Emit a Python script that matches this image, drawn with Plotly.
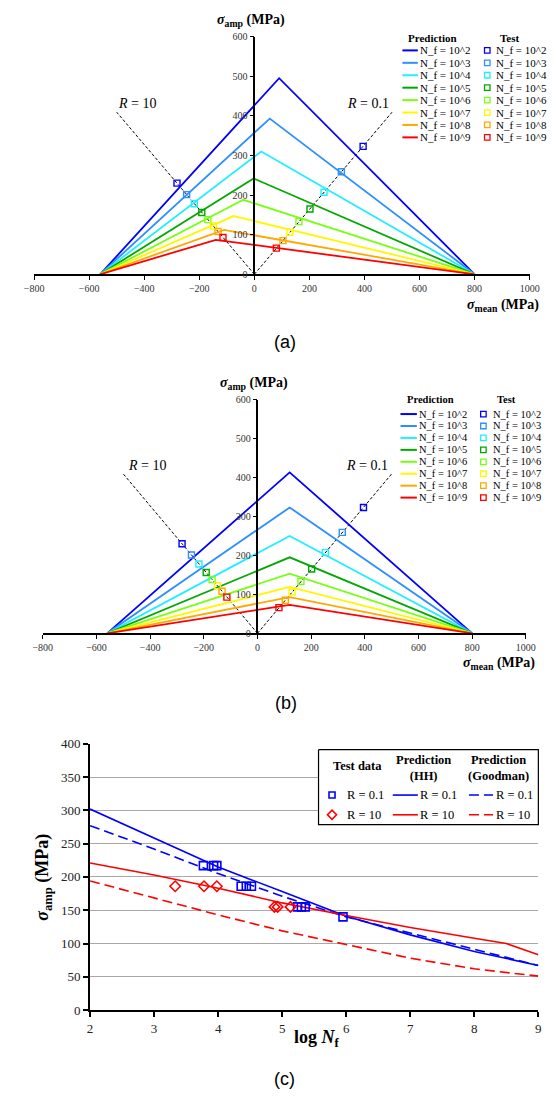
import plotly.graph_objects as go

W, H = 558, 1097

# ---------------- data ----------------
series_labels = ["N_f = 10^2", "N_f = 10^3", "N_f = 10^4", "N_f = 10^5",
                 "N_f = 10^6", "N_f = 10^7", "N_f = 10^8", "N_f = 10^9"]
colors = ["#0000FF", "#2E8FFF", "#22EEFF", "#00A800",
          "#77FF11", "#FFF700", "#FFA800", "#FF0000"]

# Haigh diagram vertices (MPa)
left_vertex = -560
right_vertex = 800
peak_mean_a = [90, 56, 25, -3, -40, -75, -110, -140]
peak_amp_a = [495, 393, 310, 242, 188, 147, 112, 87]
peak_mean_b = [120, 120, 120, 120, 120, 120, 120, 120]
peak_amp_b = [413, 323, 250, 195, 153, 119, 93, 73]

# test points (same in a and b)
test_r10_mean = [-281, -246, -218, -191, -169, -149, -132, -114]
test_r10_amp = [230, 201, 178, 156, 138, 122, 108, 93]
test_r01_mean = [395, 316, 253, 202, 162, 129, 104, 80]
test_r01_amp = [323, 259, 207, 165, 133, 106, 85, 66]

# constant R lines
R_values = [10, 0.1]
R_mean_extent = [-500, 500]
R_texts = ["<i>R</i> = 10", "<i>R</i> = 0.1"]

# panel (c)
logN = [2, 3, 4, 5, 6, 7, 8, 9]
hh_r01 = [302, 258, 215, 178, 141, 113, 88, 67]
gm_r01 = [277, 242, 205, 171, 140, 116, 91, 67]
logN_hh_r10 = [2, 3, 4, 5, 6, 7, 8, 8.5, 9]
hh_r10 = [221, 203, 183, 161, 142, 124, 108, 100, 83]
gm_r10 = [194, 168, 143, 119, 99, 78, 62, 51]
test_c_r01_logN = [3.77, 3.93, 3.98, 4.36, 4.44, 4.52, 5.24, 5.30, 5.36, 5.95]
test_c_r01_amp = [217, 217, 217, 186, 186, 186, 155, 155, 155, 140]
test_c_r10_logN = [3.33, 3.78, 3.98, 4.88, 4.93, 5.13]
test_c_r10_amp = [186, 186, 186, 155, 155, 155]

SERIF = "Liberation Serif"
SANS = "Liberation Sans"


def px(x):
    return x / W


def py(y):
    return 1 - y / H


fig = go.Figure()
annotations = []


def ann(x, y, text, size, anchor="center", family=SERIF, color="black", angle=0):
    annotations.append(dict(x=px(x), y=py(y), xref="paper", yref="paper",
                            text=text, showarrow=False, xanchor=anchor,
                            yanchor="middle", textangle=angle,
                            font=dict(family=family, size=size, color=color)))


def add_haigh(xa, ya, peak_mean, peak_amp):
    for R, ext in zip(R_values, R_mean_extent):
        slope = (1 - R) / (1 + R)
        fig.add_trace(go.Scatter(x=[0, ext], y=[0, slope * ext], mode="lines",
                                 line=dict(color="black", width=1, dash="3px,2px"),
                                 xaxis=xa, yaxis=ya, showlegend=False, hoverinfo="skip"))
    for i in range(8):
        fig.add_trace(go.Scatter(x=[left_vertex, peak_mean[i], right_vertex],
                                 y=[0, peak_amp[i], 0], mode="lines",
                                 line=dict(color=colors[i], width=1.8),
                                 xaxis=xa, yaxis=ya, showlegend=False))
    for i in range(8):
        fig.add_trace(go.Scatter(x=[test_r10_mean[i], test_r01_mean[i]],
                                 y=[test_r10_amp[i], test_r01_amp[i]], mode="markers",
                                 marker=dict(symbol="square-open", size=6, color=colors[i],
                                             line=dict(width=1.4, color=colors[i])),
                                 cliponaxis=False, xaxis=xa, yaxis=ya, showlegend=False))


add_haigh("x", "y", peak_mean_a, peak_amp_a)
add_haigh("x2", "y2", peak_mean_b, peak_amp_b)

# panel c traces
fig.add_trace(go.Scatter(x=logN, y=hh_r01, mode="lines", line=dict(color="#0000FF", width=1.6),
                         xaxis="x3", yaxis="y3", showlegend=False))
fig.add_trace(go.Scatter(x=logN, y=gm_r01, mode="lines",
                         line=dict(color="#0000FF", width=1.6, dash="10px,5px"),
                         xaxis="x3", yaxis="y3", showlegend=False))
fig.add_trace(go.Scatter(x=logN_hh_r10, y=hh_r10, mode="lines", line=dict(color="#FF0000", width=1.6),
                         xaxis="x3", yaxis="y3", showlegend=False))
fig.add_trace(go.Scatter(x=logN, y=gm_r10, mode="lines",
                         line=dict(color="#FF0000", width=1.6, dash="10px,5px"),
                         xaxis="x3", yaxis="y3", showlegend=False))
fig.add_trace(go.Scatter(x=test_c_r01_logN, y=test_c_r01_amp, mode="markers",
                         marker=dict(symbol="square-open", size=8, color="#0000FF",
                                     line=dict(width=1.6, color="#0000FF")),
                         xaxis="x3", yaxis="y3", showlegend=False))
fig.add_trace(go.Scatter(x=test_c_r10_logN, y=test_c_r10_amp, mode="markers",
                         marker=dict(symbol="diamond-open", size=8, color="#FF0000",
                                     line=dict(width=1.6, color="#FF0000")),
                         xaxis="x3", yaxis="y3", showlegend=False))


# ------------- legends (drawn on a page-pixel overlay axis) -------------
def leg_line(x0, x1, y, color, dash=None, width=1.8):
    fig.add_trace(go.Scatter(x=[x0, x1], y=[y, y], mode="lines",
                             line=dict(color=color, width=width, dash=dash),
                             xaxis="x4", yaxis="y4", showlegend=False, hoverinfo="skip"))


def leg_marker(x, y, color, symbol, size, lw=1.4):
    fig.add_trace(go.Scatter(x=[x], y=[y], mode="markers",
                             marker=dict(symbol=symbol, size=size, color=color,
                                         line=dict(width=lw, color=color)),
                             xaxis="x4", yaxis="y4", showlegend=False, hoverinfo="skip"))


def haigh_legend(head_y, row0, dy, line_x0, line_x1, mark_x, text_x2, pred_cx, test_cx, fs):
    ann(pred_cx, head_y, "<b>Prediction</b>", fs)
    ann(test_cx, head_y, "<b>Test</b>", fs)
    for i in range(8):
        y = row0 + dy * i
        leg_line(line_x0, line_x1, y, colors[i], width=2)
        ann(line_x1, y, series_labels[i], fs, anchor="left")
        leg_marker(mark_x, y, colors[i], "square-open", 5.5, 1.3)
        ann(text_x2, y, series_labels[i], fs, anchor="left")


haigh_legend(31, 44, 12.6, 407, 423, 495, 502, 438, 518, 11)
haigh_legend(398, 412.7, 12.1, 405, 422, 491, 499, 436, 515, 10.5)

# panel c legend box
fig.add_trace(go.Scatter(x=[320, 548, 548, 320, 320], y=[753, 753, 829, 829, 753], mode="lines",
                         fill="toself", fillcolor="white", line=dict(color="black", width=1.2),
                         xaxis="x4", yaxis="y4", showlegend=False, hoverinfo="skip"))
ann(360, 770, "<b>Test data</b>", 12.5)
ann(429, 772, "<b>Prediction<br>(HH)</b>", 12.5)
ann(507, 772, "<b>Prediction<br>(Goodman)</b>", 12.5)
leg_marker(334, 799, "#0000FF", "square-open", 6, 1.6)
ann(347, 799, "R = 0.1", 12.5, anchor="left")
leg_marker(334, 819, "#FF0000", "diamond-open", 7, 1.6)
ann(347, 819, "R = 10", 12.5, anchor="left")
leg_line(397, 423, 799, "#0000FF", width=1.6)
ann(423, 799, "R = 0.1", 12.5, anchor="left")
leg_line(397, 423, 819, "#FF0000", width=1.6)
ann(423, 819, "R = 10", 12.5, anchor="left")
leg_line(476, 501, 799, "#0000FF", dash="10px,5px", width=1.6)
ann(502, 799, "R = 0.1", 12.5, anchor="left")
leg_line(476, 501, 819, "#FF0000", dash="10px,5px", width=1.6)
ann(502, 819, "R = 10", 12.5, anchor="left")

# ------------- titles / labels -------------
sig_amp = "<b><i>σ</i><sub>amp</sub> (MPa)</b>"
sig_mean = "<b><i>σ</i><sub>mean</sub> (MPa)</b>"
ann(250, 14, sig_amp, 14)
ann(551, 303, sig_mean, 14, anchor="right")
ann(285, 340, "(a)", 18, family=SANS)
ann(253, 382, sig_amp, 14)
ann(547, 666, sig_mean, 14, anchor="right")
ann(286, 706, "(b)", 18, family=SANS)
ann(35, 882, sig_amp, 18, angle=-90)
ann(318, 1046, "<b>log <i>N</i><sub>f</sub></b>", 18)
ann(285, 1087, "(c)", 18, family=SANS)

# R labels (data coordinates)
for xa, ya, pos in [("x", "y", [(-426, 431), (412, 430)]), ("x2", "y2", [(-412, 430), (409, 430)])]:
    for (xx, yy), t in zip(pos, R_texts):
        annotations.append(dict(x=xx, y=yy, xref=xa, yref=ya, text=t, showarrow=False,
                                font=dict(family=SERIF, size=14, color="black")))

# ------------- axes -------------
xa_dom = [25 / W, 539 / W]
xb_dom = [34 / W, 535 / W]
xc_dom = [83 / W, 548 / W]
ya_dom = [py(271), py(30)]
yb_dom = [py(635), py(398)]
yc_dom = [py(1017), py(747)]


def ypos(dom):
    return dom[0] + (800 / 1800) * (dom[1] - dom[0])


tickfont_ab = dict(family=SERIF, size=10, color="#333")
common_x = dict(range=[-800, 1000], tickvals=list(range(-800, 1001, 200)), showgrid=False,
                zeroline=False, showline=True, linecolor="black", linewidth=1.6,
                ticks="outside", ticklen=4, tickwidth=1.2, tickcolor="black",
                tickfont=tickfont_ab, fixedrange=True)
common_y = dict(range=[0, 600], tickvals=list(range(0, 601, 100)), showgrid=False,
                zeroline=False, showline=True, linecolor="black", linewidth=1.6,
                ticks="outside", ticklen=4, tickwidth=1.2, tickcolor="black",
                tickfont=tickfont_ab, fixedrange=True, anchor="free")

fig.update_layout(
    width=W, height=H, margin=dict(l=0, r=0, t=0, b=0),
    paper_bgcolor="white", plot_bgcolor="rgba(0,0,0,0)", showlegend=False,
    xaxis=dict(domain=xa_dom, anchor="y", **common_x),
    yaxis=dict(domain=ya_dom, position=ypos(xa_dom), **common_y),
    xaxis2=dict(domain=xb_dom, anchor="y2", **common_x),
    yaxis2=dict(domain=yb_dom, position=ypos(xb_dom), **common_y),
    xaxis3=dict(domain=xc_dom, anchor="y3", range=[2, 9], tickvals=list(range(2, 10)),
                showgrid=False, zeroline=False, showline=True, linecolor="black", linewidth=2,
                ticks="outside", ticklen=5, tickwidth=1.5, tickcolor="black",
                tickfont=dict(family=SERIF, size=13, color="#222"), fixedrange=True),
    yaxis3=dict(domain=yc_dom, anchor="x3", range=[0, 400], tickvals=list(range(0, 401, 50)),
                showgrid=True, gridcolor="#A8A8A8", gridwidth=1.2, zeroline=False,
                showline=True, linecolor="black", linewidth=2,
                ticks="outside", ticklen=5, tickwidth=1.5, tickcolor="black",
                tickfont=dict(family=SERIF, size=13, color="#222"), fixedrange=True),
    xaxis4=dict(domain=[0, 1], anchor="y4", range=[0, W], visible=False, fixedrange=True),
    yaxis4=dict(domain=[0, 1], anchor="x4", range=[H, 0], visible=False, fixedrange=True),
    annotations=annotations,
)

fig.write_html("out.html")
